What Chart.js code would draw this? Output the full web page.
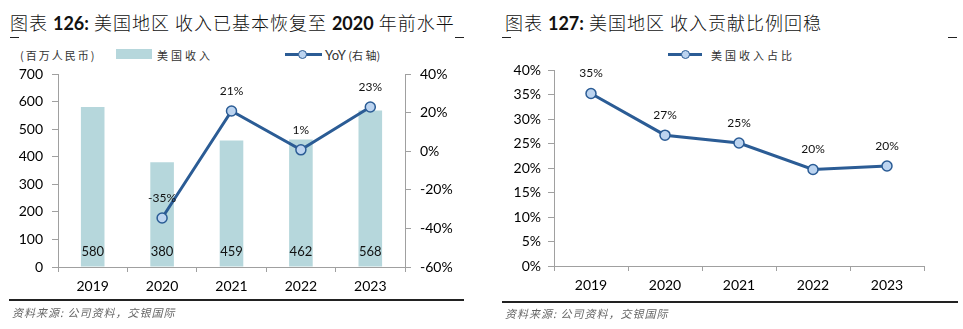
<!DOCTYPE html>
<html>
<head>
<meta charset="utf-8">
<script src="https://cdn.jsdelivr.net/npm/chart.js@4/dist/chart.umd.min.js"></script>
<style>
body{margin:0;width:963px;height:329px;background:#fff;position:relative;overflow:hidden;font-family:Lato,"Noto Sans CJK SC",sans-serif;color:#222;}
.title{position:absolute;top:11px;font-family:"Noto Sans CJK SC",sans-serif;font-size:18px;line-height:22px;color:#111;white-space:nowrap;font-weight:300;letter-spacing:1px;}
.title b{font-family:Lato,sans-serif;font-weight:700;letter-spacing:0;}
.dash{position:absolute;top:37px;width:9px;height:1px;background:#222;}
.leg{position:absolute;font-size:11px;line-height:14px;top:48px;white-space:nowrap;color:#333;font-family:"Noto Sans CJK SC",sans-serif;letter-spacing:2px;}
.swatch{position:absolute;top:49px;width:36px;height:10px;background:#b6d7dc;}
.lline{position:absolute;top:53px;height:3px;background:#2b5c95;}
.ldot{position:absolute;top:50px;width:7px;height:7px;border-radius:50%;background:#bcd4f0;border:1.5px solid #2b5c95;}
.rule{position:absolute;height:2px;background:#222;}
.src{position:absolute;font-family:"Noto Sans CJK SC",sans-serif;font-style:italic;font-size:11px;color:#666;letter-spacing:1px;white-space:nowrap;}
canvas{position:absolute;}
</style>
</head>
<body>
<div class="title" style="left:10px">图表 <b>126:</b> 美国地区 收入已基本恢复至 <b>2020</b> 年前水平</div>
<div class="dash" style="left:10px"></div>
<div class="dash" style="left:455px"></div>
<div class="leg" style="left:20px">(百万人民币)</div>
<div class="swatch" style="left:116px"></div>
<div class="leg" style="left:157px;letter-spacing:3px">美国收入</div>
<div class="lline" style="left:285px;width:37px"></div>
<div class="ldot" style="left:298px"></div>
<div class="leg" style="left:325px;letter-spacing:0"><span style="font-family:Lato;font-size:13px">YoY</span> (右 轴)</div>
<canvas id="c1" width="480" height="240" style="left:0;top:60px"></canvas>
<div class="rule" style="left:9px;top:299px;width:455px"></div>
<div class="src" style="left:12px;top:304px">资料来源: 公司资料，交银国际</div>

<div class="title" style="left:505px">图表 <b>127:</b> 美国地区 收入贡献比例回稳</div>
<div class="dash" style="left:502px"></div>
<div class="dash" style="left:948px"></div>
<div class="lline" style="left:668px;width:34px"></div>
<div class="ldot" style="left:681px"></div>
<div class="leg" style="left:711px;letter-spacing:3px">美国收入占比</div>
<canvas id="c2" width="483" height="240" style="left:480px;top:60px"></canvas>
<div class="rule" style="left:502px;top:301px;width:456px"></div>
<div class="src" style="left:505px;top:305px">资料来源: 公司资料，交银国际</div>

<script>
// shared data
const years = ['2019', '2020', '2021', '2022', '2023'];
const usRevenue = [580, 380, 459, 462, 568];        // 百万人民币
const usYoY = [null, -34.6, 20.8, 0.7, 22.9];       // %
const usShare = [35.2, 26.7, 25.1, 19.7, 20.4];     // %

const revTicks = {min: 0, max: 700, step: 100};
const yoyTicks = {min: -60, max: 40, step: 20};
const shareTicks = {min: 0, max: 40, step: 5};

const axisGray = '#a0a0a0';
const navy = '#2b5c95';
const tickFont = {family: 'Lato', size: 14};

// draws value text: bars near the base, points above the marker
const valueLabels = {
  id: 'valueLabels',
  afterDatasetsDraw(chart) {
    const ctx = chart.ctx;
    ctx.save();
    ctx.textAlign = 'center';
    ctx.textBaseline = 'middle';
    ctx.fillStyle = '#111';
    chart.data.datasets.forEach((ds, i) => {
      const meta = chart.getDatasetMeta(i);
      meta.data.forEach((el, j) => {
        const v = ds.data[j];
        if (v == null) return;
        if (ds.type === 'bar') {
          ctx.font = '13px Lato';
          ctx.fillText(String(v), el.x, chart.chartArea.bottom - 15);
        } else {
          ctx.font = '12px Lato';
          ctx.fillText(v.toFixed(0) + '%', el.x, el.y - 20);
        }
      });
    });
    ctx.restore();
  }
};

function gridOpts() {
  return {display: true, drawOnChartArea: false, drawTicks: true, tickLength: 6, color: axisGray};
}

// fixed axis width, and no extra room reserved for the end labels
function fixWidth(w) {
  return function(s) { s.width = w; s.paddingTop = 0; s.paddingBottom = 0; };
}

new Chart(document.getElementById('c1'), {
  type: 'bar',
  data: {
    labels: years,
    datasets: [
      {
        type: 'bar', label: '美国收入', data: usRevenue, yAxisID: 'y',
        backgroundColor: '#b6d7dc', categoryPercentage: 1, barPercentage: 0.34, order: 2
      },
      {
        type: 'line', label: 'YoY (右轴)', data: usYoY, yAxisID: 'y1',
        borderColor: navy, borderWidth: 3, pointRadius: 5,
        pointBackgroundColor: '#bcd4f0', pointBorderColor: navy, pointBorderWidth: 1.5,
        tension: 0, order: 1
      }
    ]
  },
  options: {
    responsive: false,
    animation: false,
    devicePixelRatio: 1,
    layout: {padding: {top: 14, left: 0, right: 0, bottom: 0}},
    plugins: {legend: {display: false}, tooltip: {enabled: false}},
    scales: {
      x: {
        offset: true,
        grid: Object.assign(gridOpts(), {offset: true, tickLength: 5}),
        border: {color: axisGray},
        ticks: {font: tickFont, color: '#000', padding: 6},
        afterFit(s) { s.height = 33; }
      },
      y: {
        position: 'left',
        min: revTicks.min, max: revTicks.max,
        grid: gridOpts(),
        border: {color: axisGray},
        ticks: {stepSize: revTicks.step, font: tickFont, color: '#000', padding: 9},
        afterFit: fixWidth(58)
      },
      y1: {
        position: 'right',
        min: yoyTicks.min, max: yoyTicks.max,
        grid: gridOpts(),
        border: {color: axisGray},
        ticks: {stepSize: yoyTicks.step, font: tickFont, color: '#000', padding: 9, callback: v => v + '%'},
        afterFit: fixWidth(75)
      }
    }
  },
  plugins: [valueLabels]
});

new Chart(document.getElementById('c2'), {
  type: 'line',
  data: {
    labels: years,
    datasets: [{
      type: 'line', label: '美国收入占比', data: usShare,
      borderColor: navy, borderWidth: 3, pointRadius: 5,
      pointBackgroundColor: '#bcd4f0', pointBorderColor: navy, pointBorderWidth: 1.5,
      tension: 0
    }]
  },
  options: {
    responsive: false,
    animation: false,
    devicePixelRatio: 1,
    layout: {padding: {top: 10, left: 0, right: 39, bottom: 0}},
    plugins: {legend: {display: false}, tooltip: {enabled: false}},
    scales: {
      x: {
        offset: true,
        grid: Object.assign(gridOpts(), {offset: true, tickLength: 5}),
        border: {color: axisGray},
        ticks: {font: tickFont, color: '#000', padding: 6},
        afterFit(s) { s.height = 34; }
      },
      y: {
        min: shareTicks.min, max: shareTicks.max,
        grid: gridOpts(),
        border: {color: axisGray},
        ticks: {stepSize: shareTicks.step, font: tickFont, color: '#000', padding: 7, callback: v => v + '%'},
        afterFit: fixWidth(74)
      }
    }
  },
  plugins: [valueLabels]
});
</script>
</body>
</html>
